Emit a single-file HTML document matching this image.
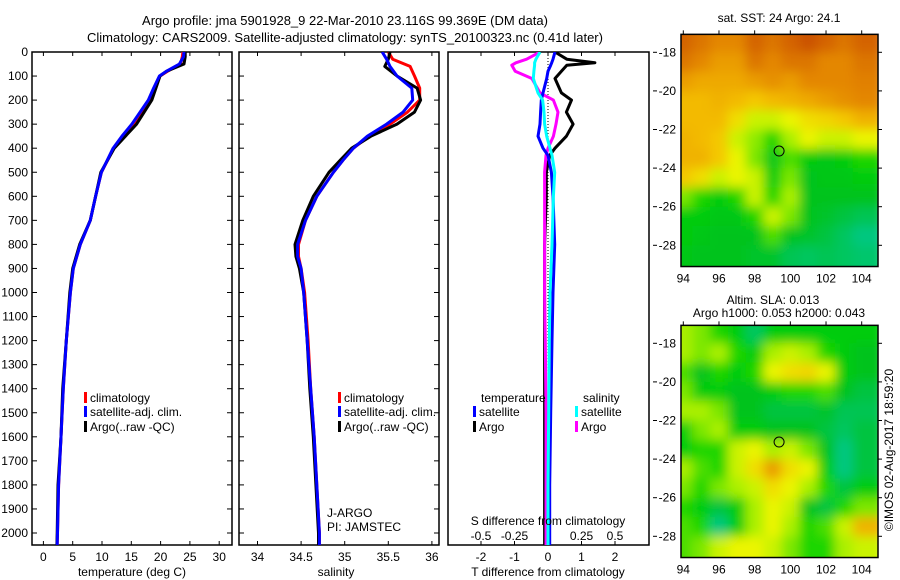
<!DOCTYPE html>
<html><head><meta charset="utf-8"><style>
html,body{margin:0;padding:0;background:#fff}
svg{display:block;font-family:"Liberation Sans",sans-serif}
text{font-size:12px;fill:#000}
</style></head><body>
<svg id="fig" width="900" height="580" viewBox="0 0 900 580" xmlns="http://www.w3.org/2000/svg">
<defs>
<filter id="blur" x="0" y="0" width="100%" height="100%"><feGaussianBlur stdDeviation="5.5" edgeMode="duplicate"/></filter>
<clipPath id="clipT"><rect x="681" y="34" width="197" height="233"/></clipPath>
<clipPath id="clipB"><rect x="681" y="325" width="197" height="232"/></clipPath>
<clipPath id="clipP1"><rect x="32" y="52" width="200" height="493"/></clipPath>
<clipPath id="clipP2"><rect x="239" y="52" width="200" height="493"/></clipPath>
<clipPath id="clipP3"><rect x="448" y="52" width="201" height="493"/></clipPath>
</defs>
<text x="345" y="25" text-anchor="middle" style="font-size:13px">Argo profile: jma 5901928_9 22-Mar-2010 23.116S 99.369E (DM data)</text>
<text x="345" y="42" text-anchor="middle" style="font-size:13px">Climatology: CARS2009. Satellite-adjusted climatology: synTS_20100323.nc (0.41d later)</text>
<g id="g"></g>
</svg>
<script>
// ---- profile data (depth m) ----
const tDepth = [0,20,50,80,100,150,200,250,300,350,400,500,600,700,800,900,1000,1200,1400,1600,1800,2000,2050];
const tClim  = [23.8,23.7,23.4,21.2,19.9,19.0,18.2,16.8,15.5,13.8,12.0,9.9,8.9,8.0,6.3,5.1,4.6,3.9,3.4,3.0,2.6,2.4,2.35];
const tSat   = [24.0,23.9,23.2,21.0,19.8,18.8,17.9,16.5,15.1,13.4,11.9,9.9,8.9,8.0,6.3,5.1,4.6,3.9,3.4,3.0,2.6,2.4,2.35];
const tArgo  = [24.2,24.2,24.0,21.0,19.9,19.2,18.5,17.2,15.9,14.0,12.1,9.8,8.9,8.0,6.2,5.0,4.5,3.9,3.3,3.0,2.5,2.35,2.3];
const sDepth = [0,30,60,100,150,200,250,300,350,400,450,500,600,700,800,850,900,1000,1200,1400,1600,1800,2000,2050];
const sClim  = [35.50,35.55,35.75,35.80,35.86,35.86,35.72,35.52,35.28,35.10,34.98,34.87,34.68,34.55,34.47,34.47,34.50,34.54,34.58,34.61,34.65,34.68,34.71,34.71];
const sSat   = [35.43,35.48,35.52,35.60,35.77,35.78,35.67,35.48,35.26,35.10,34.98,34.87,34.68,34.55,34.46,34.46,34.50,34.53,34.57,34.61,34.65,34.68,34.71,34.71];
const sArgo  = [35.52,35.50,35.46,35.60,35.83,35.87,35.80,35.60,35.30,35.08,34.95,34.82,34.64,34.52,34.43,34.44,34.48,34.53,34.57,34.60,34.64,34.67,34.70,34.70];
const dDepth = [0,30,45,55,80,110,170,200,250,300,350,400,430,500,600,800,1000,1200,1500,1800,2050];
const dTArgo = [0.21,0.56,1.4,0.56,0.4,0.21,0.4,0.7,0.55,0.75,0.55,0.21,0.05,-0.05,-0.05,-0.1,-0.1,-0.1,-0.1,-0.1,-0.1];
const dTSat  = [0.21,0.15,0.11,0.08,0.0,-0.04,-0.15,-0.2,-0.22,-0.24,-0.3,-0.15,0.0,0.1,0.15,0.2,0.15,0.12,0.08,0.05,0.05];
const dSArgo = [-0.06,-0.16,-0.24,-0.27,-0.245,-0.12,-0.06,0.04,0.075,0.06,0.04,0.0,-0.015,-0.025,-0.025,-0.025,-0.025,-0.02,-0.015,-0.015,-0.015];
const dSSat  = [-0.06,-0.09,-0.1,-0.1,-0.105,-0.11,-0.075,-0.04,-0.03,-0.025,-0.01,0.015,0.03,0.05,0.04,0.03,0.015,0.01,0.005,0.0,0.0];
const depthTicks = [0,100,200,300,400,500,600,700,800,900,1000,1100,1200,1300,1400,1500,1600,1700,1800,1900,2000];
const tTicks = [0,5,10,15,20,25,30];
const sTicks = [34,34.5,35,35.5,36];
const sTickLabels = ['34','34.5','35','35.5','36'];
const dTTicks = [-2,-1,0,1,2];
const dSTicks = [-0.5,-0.25,0,0.25,0.5];
const dSTickLabels = ['-0.5','-0.25','0','0.25','0.5'];
// ---- maps (rows lat -17.5..-28.5, cols lon 94..104) ----
const mapLons = [94,95,96,97,98,99,100,101,102,103,104];
const mapLats = [-17.5,-18.5,-19.5,-20.5,-21.5,-22.5,-23.5,-24.5,-25.5,-26.5,-27.5,-28.5];
const sstGrid = [
[0.9,0.85,0.8,0.8,0.9,0.85,0.9,0.95,0.9,0.85,0.9],
[0.85,0.8,0.75,0.75,0.85,0.8,0.85,0.85,0.8,0.8,0.85],
[0.75,0.72,0.72,0.72,0.75,0.78,0.75,0.8,0.8,0.8,0.82],
[0.68,0.68,0.7,0.68,0.65,0.68,0.7,0.72,0.75,0.78,0.8],
[0.68,0.68,0.68,0.6,0.5,0.5,0.55,0.6,0.62,0.65,0.7],
[0.7,0.68,0.65,0.5,0.42,0.3,0.45,0.55,0.5,0.5,0.55],
[0.7,0.7,0.65,0.55,0.4,0.22,0.35,0.25,0.22,0.25,0.3],
[0.65,0.6,0.5,0.55,0.5,0.25,0.4,0.2,0.22,0.22,0.25],
[0.4,0.3,0.25,0.3,0.5,0.3,0.45,0.2,0.2,0.2,0.2],
[0.25,0.25,0.22,0.22,0.3,0.5,0.4,0.2,0.18,0.15,0.12],
[0.25,0.22,0.2,0.2,0.2,0.35,0.2,0.18,0.15,0.1,0.05],
[0.22,0.2,0.2,0.2,0.18,0.18,0.12,0.1,0.12,0.1,0.08]];
const slaGrid = [
[0.45,0.4,0.3,0.25,0.1,0.25,0.25,0.25,0.25,0.25,0.25],
[0.45,0.4,0.45,0.3,0.25,0.45,0.5,0.45,0.3,0.25,0.2],
[0.35,0.2,0.3,0.25,0.3,0.55,0.6,0.62,0.55,0.25,0.2],
[0.4,0.25,0.25,0.2,0.2,0.25,0.3,0.3,0.35,0.2,0.15],
[0.45,0.45,0.4,0.2,0.2,0.15,0.15,0.15,0.18,0.12,0.12],
[0.25,0.4,0.45,0.25,0.25,0.2,0.2,0.2,0.15,0.1,0.15],
[0.25,0.3,0.3,0.5,0.55,0.45,0.5,0.4,0.2,0.05,0.15],
[0.45,0.35,0.3,0.5,0.6,0.75,0.6,0.55,0.25,0.05,0.15],
[0.4,0.3,0.4,0.45,0.5,0.6,0.55,0.45,0.3,0.15,0.25],
[0.3,0.25,0.15,0.25,0.45,0.55,0.5,0.2,0.15,0.3,0.4],
[0.35,0.3,0.05,0.25,0.45,0.55,0.45,0.3,0.35,0.5,0.7],
[0.35,0.4,0.5,0.55,0.55,0.5,0.4,0.3,0.3,0.45,0.5]];
const mapLonTicks = [94,96,98,100,102,104];
const mapLatTicks = [-18,-20,-22,-24,-26,-28];
const floatLon = 99.369, floatLat = -23.116;

const NS='http://www.w3.org/2000/svg';
const G=document.getElementById('g');
function mk(tag,attrs,parent){const e=document.createElementNS(NS,tag);for(const k in attrs)e.setAttribute(k,attrs[k]);(parent||G).appendChild(e);return e;}
function txt(x,y,s,anchor,parent){const e=mk('text',{x:x,y:y,'text-anchor':anchor||'start'},parent);e.textContent=s;return e;}

const yD = d => 52 + d*0.2405;
const xT = v => 43.4 + v*5.86;
const xS = v => 257.5 + (v-34)*87.2;
const xDT = v => 548 + v*33.5;
const xDS = v => 548 + v*134;

function panel(x0,name){
  const r=mk('rect',{x:x0,y:52,width:(name==='diff-panel'?201:200),height:493,fill:'none',stroke:'#000','stroke-width':1.5});
  
  
}
panel(32,'temperature-panel');panel(239,'salinity-panel');panel(448,'diff-panel');

depthTicks.forEach(d=>{
  const t=txt(28,yD(d)+4,String(d),'end');
  
  
  mk('line',{x1:32,x2:37,y1:yD(d),y2:yD(d),stroke:'#000'});
  mk('line',{x1:227,x2:232,y1:yD(d),y2:yD(d),stroke:'#000'});
  mk('line',{x1:239,x2:244,y1:yD(d),y2:yD(d),stroke:'#000'});
  mk('line',{x1:434,x2:439,y1:yD(d),y2:yD(d),stroke:'#000'});
});
tTicks.forEach(v=>{
  const t=txt(xT(v),561,String(v),'middle');
  
  
  mk('line',{x1:xT(v),x2:xT(v),y1:52,y2:56,stroke:'#000'});
  mk('line',{x1:xT(v),x2:xT(v),y1:541,y2:545,stroke:'#000'});
});
sTicks.forEach((v,i)=>{
  const t=txt(xS(v),561,sTickLabels[i],'middle');
  
  
  mk('line',{x1:xS(v),x2:xS(v),y1:52,y2:56,stroke:'#000'});
  mk('line',{x1:xS(v),x2:xS(v),y1:541,y2:545,stroke:'#000'});
});
dTTicks.forEach(v=>{
  const t=txt(xDT(v),561,String(v),'middle');
  
  
  mk('line',{x1:xDT(v),x2:xDT(v),y1:52,y2:56,stroke:'#000'});
  mk('line',{x1:xDT(v),x2:xDT(v),y1:541,y2:545,stroke:'#000'});
});
dSTicks.forEach((v,i)=>{
  const t=txt(xDS(v),540,dSTickLabels[i],'middle');
  
  
});
mk('line',{x1:548,x2:548,y1:52,y2:545,stroke:'#000','stroke-dasharray':'1,2'});

function line(xs,ds,xf,color,clip,name,w){
  const pts=ds.map((d,i)=>xf(xs[i]).toFixed(1)+','+yD(d).toFixed(1)).join(' ');
  const p=mk('polyline',{points:pts,fill:'none',stroke:color,'stroke-width':w||3,'stroke-linejoin':'round','clip-path':'url(#'+clip+')'});
  
  
}
line(tClim,tDepth,xT,'#ff0000','clipP1','temperature-climatology-line');
line(tArgo,tDepth,xT,'#000000','clipP1','temperature-argo-line');
line(tSat,tDepth,xT,'#0000ff','clipP1','temperature-satellite-line');
line(sClim,sDepth,xS,'#ff0000','clipP2','salinity-climatology-line');
line(sArgo,sDepth,xS,'#000000','clipP2','salinity-argo-line');
line(sSat,sDepth,xS,'#0000ff','clipP2','salinity-satellite-line');
line(dTArgo,dDepth,xDT,'#000000','clipP3','t-diff-argo-line');
line(dSArgo,dDepth,xDS,'#ff00ff','clipP3','s-diff-argo-line');
line(dTSat,dDepth,xDT,'#0000ff','clipP3','t-diff-satellite-line');
line(dSSat,dDepth,xDS,'#00ffff','clipP3','s-diff-satellite-line');

function legend(x,y,color,label,name){
  const r=mk('rect',{x:x,y:y-10,width:3,height:11,fill:color});
  
  
  const t=txt(x+6,y,label);
  
  
}
legend(84,402,'#ff0000','climatology','legend-climatology');
legend(84,416,'#0000ff','satellite-adj. clim.','legend-satellite');
legend(84,431,'#000000','Argo(..raw -QC)','legend-argo');
legend(338,402,'#ff0000','climatology','legend2-climatology');
legend(338,416,'#0000ff','satellite-adj. clim.','legend2-satellite');
legend(338,431,'#000000','Argo(..raw -QC)','legend2-argo');
legend(473,416,'#0000ff','satellite','legend-t-satellite');
legend(473,431,'#000000','Argo','legend-t-argo');
legend(575,416,'#00ffff','satellite','legend-s-satellite');
legend(575,431,'#ff00ff','Argo','legend-s-argo');
[[481,402,'temperature','legend-temperature-title'],[583,402,'salinity','legend-salinity-title'],
 [327,517,'J-ARGO','project-label'],[327,531,'PI: JAMSTEC','pi-label'],
 [548,525,'S difference from climatology','s-diff-axis-title'],
 [548,576,'T difference from climatology','t-diff-axis-title'],
 [132,576,'temperature (deg C)','temperature-axis-title'],
 [336,576,'salinity','salinity-axis-title'],
 [779,22,'sat. SST: 24 Argo: 24.1','sst-map-title'],
 [773,304,'Altim. SLA: 0.013','sla-map-title'],
 [779,317,'Argo h1000: 0.053 h2000: 0.043','sla-map-subtitle']].forEach(a=>{
  const anchor=(a[3].indexOf('legend')===0||a[3]==='project-label'||a[3]==='pi-label')?'start':'middle';
  const t=txt(a[0],a[1],a[2],anchor);
  
  
});

const cmap=[[0,[0,200,160]],[0.2,[0,195,30]],[0.28,[10,210,0]],[0.45,[170,240,0]],[0.55,[235,245,0]],[0.66,[245,195,0]],[0.8,[228,135,0]],[1,[195,65,0]]];
function col(v){for(let i=1;i<cmap.length;i++){if(v<=cmap[i][0]){const a=cmap[i-1],b=cmap[i];const f=(v-a[0])/(b[0]-a[0]);const c=a[1].map((x,k)=>Math.round(x+(b[1][k]-x)*f));return 'rgb('+c+')';}}return 'rgb('+cmap[cmap.length-1][1]+')';}
const mx = lon => 683.3 + (lon-94)*17.84;
function drawMap(grid,y0,clip,name){
  const my = lat => y0 + (-18-lat)*19.3;
  const gr=mk('g',{'clip-path':'url(#'+clip+')'});
  
  
  const inner=mk('g',{filter:'url(#blur)'},gr);
  grid.forEach((row,r)=>row.forEach((v,c)=>{
    let x=mx(mapLons[c]-0.5), w=17.84+0.5, y=my(mapLats[r]+0.5), h=19.3+0.5;
    if(c===0){x-=12;w+=12;} if(c===row.length-1){w+=14;}
    if(r===0){y-=12;h+=12;} if(r===grid.length-1){h+=14;}
    const cell=mk('rect',{x:x,y:y,width:w,height:h,fill:col(v)},inner);
    
  }));
  const top=my(-17.07), bot=my(-29.1);
  mk('rect',{x:681,y:top,width:197,height:bot-top,fill:'none',stroke:'#000','stroke-width':1.5});
  mapLatTicks.forEach(l=>{
    const t=txt(676,my(l)+4,String(l),'end');
    
    
    mk('line',{x1:653,x2:657,y1:my(l),y2:my(l),stroke:'#000'});
    mk('line',{x1:878,x2:882,y1:my(l),y2:my(l),stroke:'#000'});
  });
  mapLonTicks.forEach(l=>{
    const t=txt(mx(l),bot+16,String(l),'middle');
    
    
    mk('line',{x1:mx(l),x2:mx(l),y1:top-4,y2:top,stroke:'#000'});
  });
  const c=mk('ellipse',{cx:mx(floatLon),cy:my(floatLat),rx:5,ry:5,fill:'none',stroke:'#000','stroke-width':1});
  
  
}
drawMap(sstGrid,52.3,'clipT','sst-map');
drawMap(slaGrid,343.3,'clipB','sla-map');
const cr=txt(0,0,'©IMOS 02-Aug-2017 18:59:20','middle');
cr.setAttribute('transform','translate(893,450) rotate(-90)');


</script>
</body></html>
